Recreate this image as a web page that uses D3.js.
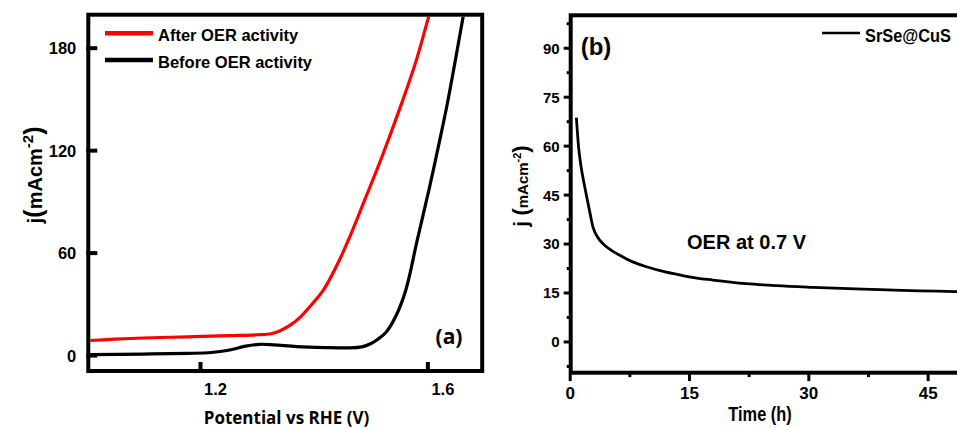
<!DOCTYPE html>
<html><head><meta charset="utf-8">
<script src="https://cdn.jsdelivr.net/npm/d3@7"></script>
<style>
body{margin:0;background:#fff}
text{font-family:"Liberation Sans",Arial,sans-serif;font-weight:bold;fill:#000}
</style>
</head><body>
<svg id="c" width="957" height="428"></svg>
<script>
// ---- Panel (a): LSV ----
const afterV = [1.00,1.05,1.10,1.18,1.25,1.30,1.325,1.342,1.36,1.377,1.395,1.417,1.44,1.462,1.49,1.52,1.55,1.58,1.604,1.62];
const afterJ = [8.4,9.3,10.0,10.7,11.4,11.9,12.5,14.4,17.8,22.4,29,38,52,68,91,116,143,172,200,217];
const beforeV = [1.00,1.10,1.18,1.22,1.25,1.28,1.305,1.33,1.37,1.42,1.46,1.485,1.50,1.513,1.527,1.544,1.562,1.582,1.603,1.618,1.635,1.664,1.675];
const beforeJ = [0.2,0.6,1.0,1.5,2.8,5.2,6.3,6.0,5.0,4.4,4.2,4.8,6.6,9.3,13.2,22.4,38,67,97,120,147,200,220];
const leftXTicks = [1.2,1.6];
const leftYTicks = [0,60,120,180];
const leftLegend = ["After OER activity","Before OER activity"];
// ---- Panel (b): chronoamperometry ----
const timeH = [0.84,1.1,1.4,1.8,2.1,2.5,2.93,3.5,4.2,5.2,6.7,8,9.65,12,13.8,15,18,22.2,26,30.6,35,39,44,48.4,50];
const stabJ = [68.6,60,54,48.5,44.8,40,35,32,29.9,28,25.9,24.3,22.9,21.3,20.4,19.8,18.8,17.7,17.1,16.6,16.2,15.9,15.5,15.3,15.2];
const rightXTicks = [0,15,30,45];
const rightXMinor = [7.5,22.5,37.5];
const rightYTicks = [0,15,30,45,60,75,90];
const rightYMinor = [-7.5,7.5,22.5,37.5,52.5,67.5,82.5,97.5];

const svg = d3.select("#c");

// scales
const xL = d3.scaleLinear().domain([1.0,1.7]).range([86.3,484.2]);
const yL = d3.scaleLinear().domain([-10.5,200.5]).range([373,12.7]);
const xR = d3.scaleLinear().domain([0,50]).range([569.7,967.4]);
const yR = d3.scaleLinear().domain([-10,100]).range([374.1,15.1]);

// ---------- Panel (a) ----------
svg.append("clipPath").attr("id","clipL").append("rect")
  .attr("x",xL(1.0)+4).attr("y",yL(200.5)+4)
  .attr("width",xL(1.7)-xL(1.0)-8).attr("height",yL(-10.5)-yL(200.5)-8);

const lineL = d3.line().curve(d3.curveCatmullRom.alpha(0.5)).x(d=>xL(d[0])).y(d=>yL(d[1]));
svg.append("path").datum(d3.zip(afterV,afterJ)).attr("clip-path","url(#clipL)")
  .attr("d",lineL).attr("fill","none").attr("stroke","#ff0000").attr("stroke-width",3.2);
svg.append("path").datum(d3.zip(beforeV,beforeJ)).attr("clip-path","url(#clipL)")
  .attr("d",lineL).attr("fill","none").attr("stroke","#000").attr("stroke-width",3.2);

// frame
svg.append("rect").attr("x",xL(1.0)+2).attr("y",yL(200.5)+2)
  .attr("width",xL(1.7)-xL(1.0)-4).attr("height",yL(-10.5)-yL(200.5)-4)
  .attr("fill","none").attr("stroke","#000").attr("stroke-width",4);

// axes
const axYL = svg.append("g").attr("transform",`translate(${xL(1.0)},0)`)
  .call(d3.axisLeft(yL).tickValues(leftYTicks).tickFormat(d3.format("d")).tickSize(-11).tickPadding(10));
axYL.select(".domain").remove();
axYL.selectAll("line").attr("stroke","#000").attr("stroke-width",4);
axYL.selectAll("text").style("font-size","16.5px").attr("dy","0.36em");

const axXL = svg.append("g").attr("transform",`translate(0,${yL(-10.5)})`)
  .call(d3.axisBottom(xL).tickValues(leftXTicks).tickFormat(d3.format(".1f")).tickSize(-11).tickPadding(10));
axXL.select(".domain").remove();
axXL.selectAll("line").attr("stroke","#000").attr("stroke-width",4);
axXL.selectAll("text").style("font-size","16.5px").attr("dx",15);

svg.append("text").attr("x",286.5).attr("y",424).attr("text-anchor","middle")
  .style("font-family","'Open Sans',sans-serif").style("font-size","17px")
  .text("Potential vs RHE (V)");

// y label (a)
const ylA = svg.append("text").attr("transform","translate(42,175) rotate(-90)").attr("text-anchor","middle");
ylA.append("tspan").style("font-size","21px").text("j");
ylA.append("tspan").style("font-size","25px").text("(");
ylA.append("tspan").style("font-size","20px").text("mAcm");
ylA.append("tspan").style("font-size","15px").attr("dy",-9).text("-2");
ylA.append("tspan").style("font-size","25px").attr("dy",9).text(")");

// legend (a)
const legColors = ["#ff0000","#000"];
const legY = [33.3,60];
leftLegend.forEach((t,i)=>{
  svg.append("line").attr("x1",105).attr("x2",153).attr("y1",legY[i]).attr("y2",legY[i])
    .attr("stroke",legColors[i]).attr("stroke-width",4.5);
  svg.append("text").attr("x",158).attr("y",legY[i]+7.7).style("font-size","16.5px").text(t);
});

svg.append("text").attr("x",449).attr("y",344).attr("text-anchor","middle")
  .style("font-family","'Open Sans',sans-serif").style("font-size","21px").text("(a)");

// ---------- Panel (b) ----------
const lineR = d3.line().curve(d3.curveMonotoneX).x(d=>xR(d[0])).y(d=>yR(d[1]));
svg.append("path").datum(d3.zip(timeH,stabJ))
  .attr("d",lineR).attr("fill","none").attr("stroke","#000").attr("stroke-width",2.8);

// frame
svg.append("rect").attr("x",xR(0)+1).attr("y",yR(100)+0.2)
  .attr("width",xR(50)-xR(0)-3).attr("height",yR(-10)-yR(100)-1.6)
  .attr("fill","none").attr("stroke","#000").attr("stroke-width",4);

const axYR = svg.append("g").attr("transform",`translate(${xR(0)},0)`)
  .call(d3.axisLeft(yR).tickValues(rightYTicks).tickFormat(d3.format("d")).tickSize(6).tickPadding(4));
axYR.select(".domain").remove();
axYR.selectAll("line").attr("stroke","#000").attr("stroke-width",3);
axYR.selectAll("text").style("font-size","15px").attr("dy","0.36em");

const axYRm = svg.append("g").attr("transform",`translate(${xR(0)},0)`)
  .call(d3.axisLeft(yR).tickValues(rightYMinor).tickFormat("").tickSize(3));
axYRm.select(".domain").remove();
axYRm.selectAll("line").attr("stroke","#000").attr("stroke-width",3);

const axXR = svg.append("g").attr("transform",`translate(0,${yR(-10)})`)
  .call(d3.axisBottom(xR).tickValues(rightXTicks).tickFormat(d3.format("d")).tickSize(7).tickPadding(6));
axXR.select(".domain").remove();
axXR.selectAll("line").attr("stroke","#000").attr("stroke-width",3);
axXR.selectAll("text").style("font-size","17px");

const axXRm = svg.append("g").attr("transform",`translate(0,${yR(-10)})`)
  .call(d3.axisBottom(xR).tickValues(rightXMinor).tickFormat("").tickSize(3));
axXRm.select(".domain").remove();
axXRm.selectAll("line").attr("stroke","#000").attr("stroke-width",3);

svg.append("text").attr("transform","translate(760,421) scale(0.78,1)").attr("text-anchor","middle")
  .style("font-size","21px").text("Time (h)");

const ylB = svg.append("text").attr("transform","translate(528,186) rotate(-90)").attr("text-anchor","middle");
ylB.append("tspan").style("font-size","20px").text("j ");
ylB.append("tspan").style("font-size","22px").text("(");
ylB.append("tspan").style("font-size","15px").text("mAcm");
ylB.append("tspan").style("font-size","11px").attr("dy",-7).text("-2");
ylB.append("tspan").style("font-size","22px").attr("dy",7).text(")");

svg.append("text").attr("x",596).attr("y",54.5).attr("text-anchor","middle").style("font-size","24px").text("(b)");
svg.append("text").attr("x",746.5).attr("y",248.5).attr("text-anchor","middle").style("font-size","20px").text("OER at 0.7 V");

svg.append("line").attr("x1",822).attr("x2",860).attr("y1",33).attr("y2",33).attr("stroke","#000").attr("stroke-width",2.5);
svg.append("text").attr("transform","translate(865,41.7) scale(0.86,1)")
  .style("font-size","19px").text("SrSe@CuS");
</script>
</body></html>
